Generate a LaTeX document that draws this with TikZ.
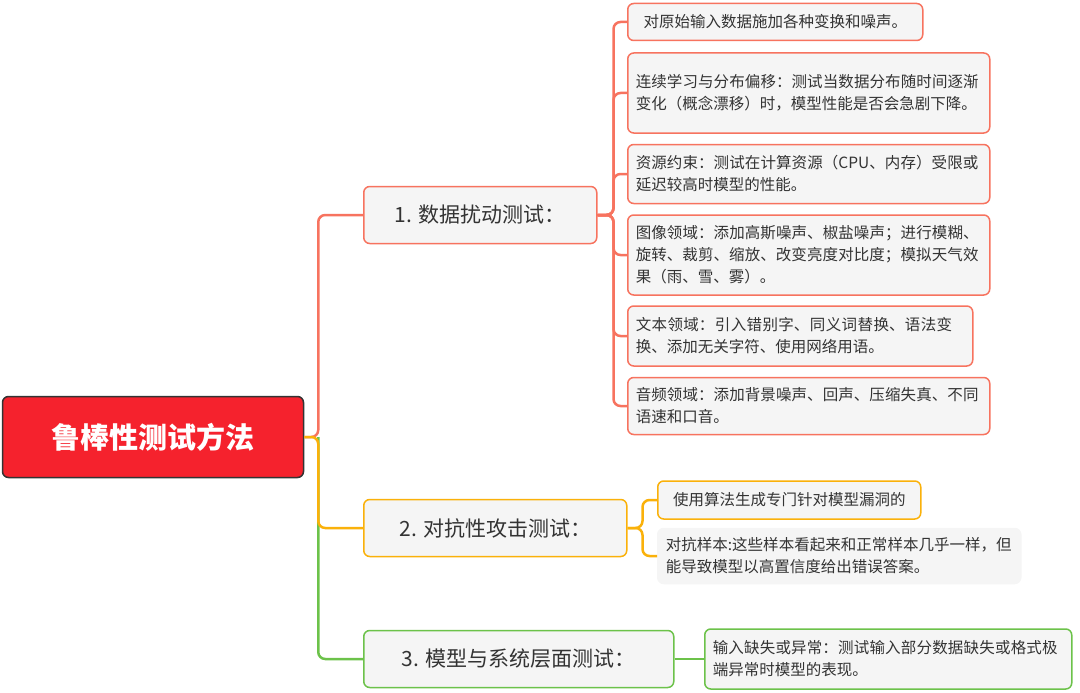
\documentclass[tikz,border=0pt]{standalone}
\usepackage{fontspec}
\setmainfont{Noto Sans CJK SC}
\XeTeXlinebreaklocale "zh"
\XeTeXlinebreakskip = 0pt plus 1pt
\usetikzlibrary{positioning}
\definecolor{rootred}{HTML}{F5222D}
\definecolor{salmon}{HTML}{F7735F}
\definecolor{amber}{HTML}{FAB10A}
\definecolor{leafgreen}{HTML}{6CC24A}
\definecolor{boxgray}{HTML}{F5F5F5}
\definecolor{txtgray}{HTML}{333333}
\tikzset{
  rootbox/.style={draw=txtgray, line width=1.5pt, fill=rootred, rounded corners=6pt, text=white,
    font=\fontsize{29}{34}\selectfont\bfseries, minimum width=301pt, minimum height=81pt},
  branchbox/.style={draw=#1, line width=1.5pt, fill=boxgray, rounded corners=6pt, text=txtgray,
    font=\fontsize{21}{26}\selectfont, minimum height=57pt, anchor=west, align=left, inner xsep=22pt},
  leafbox/.style={draw=#1, line width=1.5pt, fill=boxgray, rounded corners=6pt, text=txtgray,
    font=\fontsize{15.5}{22}\selectfont, anchor=west, align=left, inner xsep=8pt, inner ysep=6pt},
  link/.style={draw=#1, line width=2.5pt, rounded corners=7pt}
}
\begin{document}
\begin{tikzpicture}[x=1pt, y=-1pt]
\useasboundingbox (0,0) rectangle (1080,693);
% root and branches
\node[rootbox] (root) at (153,437) {鲁棒性测试方法};
\node[branchbox=salmon, minimum width=233pt] (data) at (363,215) {1. 数据扰动测试：};
\node[branchbox=amber, minimum width=263pt] (adv) at (363,528) {2. 对抗性攻击测试：};
\node[branchbox=leafgreen, minimum width=310pt] (sys) at (363,659) {3. 模型与系统层面测试：};
% leaves of data
\node[leafbox=salmon, minimum width=295pt, minimum height=37pt] (noise) at (627,22) {对原始输入数据施加各种变换和噪声。};
\node[leafbox=salmon, text width=346pt, minimum height=80pt] (drift) at (627,93) {连续学习与分布偏移：测试当数据分布随时间逐渐变化（概念漂移）时，模型性能是否会急剧下降。};
\node[leafbox=salmon, text width=346pt, minimum height=59pt] (res) at (627,174) {资源约束：测试在计算资源（CPU、内存）受限或延迟较高时模型的性能。};
\node[leafbox=salmon, text width=346pt, minimum height=80pt] (img) at (627,255) {图像领域：添加高斯噪声、椒盐噪声；进行模糊、旋转、裁剪、缩放、改变亮度对比度；模拟天气效果（雨、雪、雾）。};
\node[leafbox=salmon, text width=329pt, minimum height=60pt] (txt) at (627,336) {文本领域：引入错别字、同义词替换、语法变换、添加无关字符、使用网络用语。};
\node[leafbox=salmon, text width=346pt, minimum height=57pt] (aud) at (627,406) {音频领域：添加背景噪声、回声、压缩失真、不同语速和口音。};
% leaves of adv
\node[leafbox=amber, minimum width=263pt, minimum height=38pt] (gen) at (657,500) {使用算法生成专门针对模型漏洞的};
\node[leafbox=boxgray, text width=347pt, minimum height=55pt] (sample) at (657,556) {对抗样本:这些样本看起来和正常样本几乎一样，但能导致模型以高置信度给出错误答案。};
% leaf of sys
\node[leafbox=leafgreen, text width=351pt, minimum height=60pt] (miss) at (704,659) {输入缺失或异常：测试输入部分数据缺失或格式极端异常时模型的表现。};
% connectors
\draw[link=salmon] (root.east) -- ++(14,0) |- (data.west);
\draw[link=leafgreen] (root.east) ++(14,0) |- (sys.west);
\draw[link=amber] (root.east) -- ++(14,0) |- (adv.west);
\foreach \leaf in {noise, drift, res, img, txt, aud}
  \draw[link=salmon] (data.east) -- ++(16,0) |- (\leaf.west);
\foreach \leaf in {gen, sample}
  \draw[link=amber] (adv.east) -- ++(15,0) |- (\leaf.west);
\draw[link=leafgreen] (sys.east) -- (miss.west);
\end{tikzpicture}
\end{document}
